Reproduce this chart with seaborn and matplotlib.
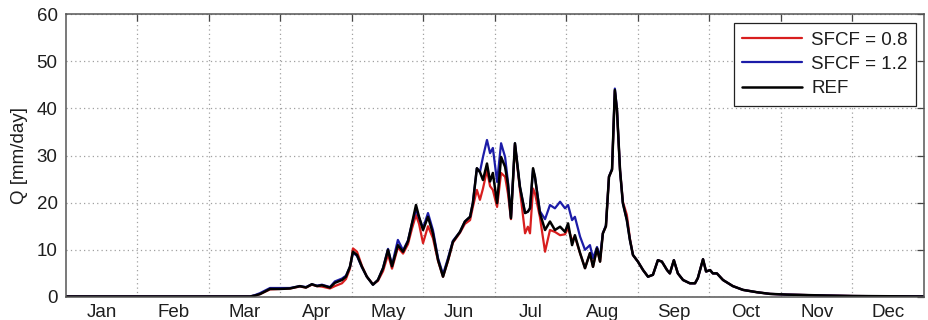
import matplotlib
matplotlib.use("Agg")
import matplotlib.pyplot as plt
import numpy as np
import pandas as pd
import seaborn as sns

# Day of year (vertices of the daily hydrographs)
day = [0.0, 78.3, 80.4, 82.5, 86.8, 91.0, 95.3, 99.5, 102.1, 104.6, 106.8, 108.9,
       112.3, 114.4, 117.4, 119.1, 120.8, 122.1, 123.8, 125.9, 128.0, 130.6, 132.7,
       134.9, 137.0, 138.7, 141.2, 143.4, 145.5, 147.2, 148.9, 150.2, 151.9, 154.0,
       156.1, 158.3, 160.4, 162.5, 164.6, 167.6, 169.7, 171.9, 173.1, 174.8, 176.1,
       177.4, 179.1, 180.4, 181.6, 183.4, 185.1, 186.8, 188.0, 189.3, 191.0, 193.1,
       195.3, 196.5, 197.4, 198.7, 199.5, 201.6, 203.8, 205.9, 208.0, 210.2, 212.3,
       213.6, 215.3, 216.5, 218.7, 220.8, 222.9, 224.2, 225.9, 227.2, 228.4, 229.7,
       231.0, 232.3, 233.5, 234.4, 235.7, 236.9, 238.6, 239.9, 241.2, 243.3, 245.5,
       247.6, 249.7, 251.8, 253.5, 255.7, 256.9, 258.6, 260.3, 262.5, 265.4, 267.6,
       268.8, 271.0, 272.3, 274.0, 275.2, 276.9, 279.5, 283.7, 288.0, 294.0, 299.5,
       306.7, 315.2, 323.7, 334.8, 365.0]

# Reference run discharge [mm/day]
q_ref = [0.1, 0.1, 0.3, 0.6, 1.7, 1.7, 1.8, 2.3, 2.0, 2.7, 2.3, 2.5,
         2.0, 3.0, 3.6, 4.3, 6.4, 9.6, 8.9, 6.4, 4.3, 2.6, 3.6,
         6.1, 10.0, 6.5, 11.0, 9.6, 11.8, 15.6, 19.5, 17.0, 14.2, 17.0,
         13.5, 7.8, 4.3, 7.8, 11.7, 13.8, 16.0, 17.0, 19.9, 27.3, 26.5,
         24.8, 28.3, 24.5, 26.3, 19.9, 29.7, 27.6, 24.0, 16.7, 32.6, 23.4,
         17.8, 18.1, 18.8, 27.3, 25.5, 17.8, 14.2, 16.0, 14.2, 14.9, 13.8,
         15.6, 11.0, 13.1, 9.3, 6.1, 9.3, 6.4, 10.3, 7.5, 13.5, 15.0,
         25.5, 27.0, 43.9, 39.6, 26.9, 19.9, 16.3, 12.1, 8.9, 7.5, 5.7,
         4.3, 4.7, 7.8, 7.5, 5.7, 5.0, 7.8, 5.0, 3.6, 2.9, 2.9,
         4.0, 8.0, 5.4, 5.7, 5.0, 5.0, 3.6, 2.3, 1.5, 1.0, 0.65,
         0.5, 0.4, 0.3, 0.2, 0.1]

# Snowfall correction factor 0.8
q_sfcf_08 = [0.1, 0.1, 0.3, 0.6, 1.6, 1.7, 1.8, 2.2, 2.0, 2.6, 2.3, 2.2,
             1.8, 2.3, 2.9, 3.8, 6.0, 10.3, 9.6, 6.6, 4.3, 2.7, 3.4,
             5.5, 9.0, 6.0, 10.5, 9.2, 11.2, 14.5, 17.4, 15.5, 11.4, 15.0,
             12.5, 7.6, 4.3, 7.6, 11.5, 13.6, 15.5, 16.3, 19.1, 22.7, 20.6,
             23.0, 26.9, 23.5, 22.7, 19.1, 26.3, 25.5, 22.0, 16.5, 32.3, 22.8,
             13.5, 14.9, 13.5, 23.0, 22.0, 17.0, 9.6, 14.2, 13.8, 13.1, 13.3,
             14.6, 12.0, 12.8, 9.3, 6.1, 9.3, 6.4, 10.3, 7.5, 13.5, 15.0,
             25.5, 27.0, 43.7, 39.6, 26.9, 20.2, 17.4, 12.4, 8.9, 7.5, 5.7,
             4.3, 4.7, 7.8, 7.5, 5.7, 5.0, 7.8, 5.0, 3.6, 2.9, 2.9,
             4.0, 8.0, 5.4, 5.7, 5.0, 5.0, 3.6, 2.3, 1.5, 1.0, 0.65,
             0.5, 0.4, 0.3, 0.2, 0.1]

# Snowfall correction factor 1.2
q_sfcf_12 = [0.1, 0.1, 0.4, 0.8, 1.9, 1.9, 1.9, 2.3, 2.1, 2.7, 2.4, 2.6,
             2.1, 3.3, 3.9, 4.5, 6.4, 9.4, 8.7, 6.3, 4.3, 2.6, 3.6,
             6.2, 10.2, 6.8, 12.1, 9.9, 12.0, 15.6, 18.5, 16.8, 14.6, 17.8,
             14.2, 8.2, 4.8, 8.2, 11.9, 13.8, 16.0, 17.0, 20.0, 27.3, 26.5,
             29.7, 33.3, 30.5, 31.6, 24.4, 32.6, 29.7, 24.5, 16.9, 32.6, 23.4,
             17.8, 18.1, 18.8, 27.0, 25.5, 18.2, 16.5, 19.5, 18.8, 20.2, 18.8,
             19.5, 16.3, 17.0, 12.8, 10.0, 11.0, 8.2, 10.6, 8.5, 13.5, 15.2,
             25.5, 27.2, 44.2, 39.8, 26.9, 19.9, 16.3, 12.1, 8.9, 7.5, 5.7,
             4.3, 4.7, 7.8, 7.5, 5.7, 5.0, 7.8, 5.0, 3.6, 2.9, 2.9,
             4.0, 8.0, 5.4, 5.7, 5.0, 5.0, 3.6, 2.3, 1.5, 1.0, 0.65,
             0.5, 0.4, 0.3, 0.2, 0.1]

months = ["Jan", "Feb", "Mar", "Apr", "May", "Jun",
          "Jul", "Aug", "Sep", "Oct", "Nov", "Dec"]
y_ticks = [0, 10, 20, 30, 40, 50, 60]

series = [("SFCF = 0.8", q_sfcf_08, "#d81e1e", 1.6),
          ("SFCF = 1.2", q_sfcf_12, "#1c1ca8", 1.6),
          ("REF", q_ref, "#000000", 1.8)]

sns.set_theme(style="white")
plt.rcParams["font.family"] = ["Liberation Sans", "DejaVu Sans"]

fig = plt.figure(figsize=(9.29, 3.2), dpi=100)
ax = fig.add_axes([0.071, 0.072, 0.9236, 0.884])

for label, values, color, lw in series:
    df = pd.DataFrame({"day": day, "Q": values})
    sns.lineplot(data=df, x="day", y="Q", ax=ax, color=color, lw=lw,
                 label=label, sort=False, estimator=None)

ax.set_xlim(0, 365)
ax.set_ylim(0, 60)

month_len = 365 / 12
bounds = [month_len * i for i in range(1, 12)]
centers = [month_len * (i + 0.5) for i in range(12)]
ax.set_xticks(bounds)
ax.set_xticklabels([])
ax.set_xticks(centers, minor=True)
ax.set_xticklabels(months, minor=True)
ax.set_yticks(y_ticks)

text_col = "#1e1e1e"
ax.tick_params(axis="both", which="major", direction="in", length=5,
               width=0.9, color="#444444", top=True, right=True,
               labelsize=13.5, labelcolor=text_col)
ax.tick_params(axis="x", which="minor", length=0, labelsize=13.5,
               labelcolor=text_col, pad=5)
ax.tick_params(axis="y", which="major", pad=6)

ax.grid(True, which="major", linestyle=(0, (1, 2.5)), color="#a0a0a0", lw=0.9)
for s in ax.spines.values():
    s.set_color("#555555")
    s.set_linewidth(1.1)

ax.set_xlabel("")
ax.set_ylabel("Q [mm/day]", fontsize=13.5, color=text_col, labelpad=6)

leg = ax.legend(loc="upper right", bbox_to_anchor=(0.991, 0.968),
                borderaxespad=0, fontsize=13.5, frameon=True, fancybox=False,
                handlelength=3.2, handletextpad=0.5, labelspacing=0.38,
                borderpad=0.45, framealpha=1)
leg.get_frame().set_edgecolor("#222222")
leg.get_frame().set_linewidth(0.9)
for t in leg.get_texts():
    t.set_color(text_col)

fig.savefig("out.png", dpi=100)
